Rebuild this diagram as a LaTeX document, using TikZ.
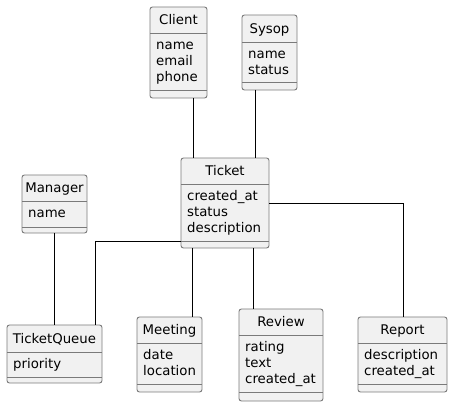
\documentclass[tikz,border=0pt]{standalone}
\usepackage{fontspec}
\setmainfont{DejaVu Sans}
\definecolor{boxfill}{HTML}{F1F1F1}
\definecolor{boxline}{HTML}{7A7A7A}
\tikzset{
  clsbox/.style={draw=boxline, fill=boxfill, line width=0.9pt, rounded corners=2.5pt, inner sep=0pt, outer sep=0pt},
  divline/.style={draw=boxline, line width=0.9pt},
  clstitle/.style={anchor=base, inner sep=0pt, font=\fontsize{13.3}{16}\selectfont},
  clsattr/.style={anchor=base west, inner sep=0pt, font=\fontsize{13.3}{16}\selectfont},
  link/.style={draw=black, line width=0.9pt}
}
% name, x1, y1, x2, y2, div1, div2, title, attrs
\newcommand\umlclass[9]{%
  \node[clsbox, minimum width={(#4-#2)*1pt}, minimum height={(#5-#3)*1pt}] (#1) at ({(#2+#4)/2},{(#3+#5)/2}) {};
  \draw[divline] (#2,#6) -- (#4,#6);
  \draw[divline] (#2,#7) -- (#4,#7);
  \node[clstitle] (#1-title) at ({(#2+#4)/2},{(#3+#6)/2+5}) {#8};
  \foreach \t [count=\i] in {#9} {
    \node[clsattr] (#1-attr\i) at (#2+6,{#6+16.5+(\i-1)*16}) {\t};
  }
}
\begin{document}
\begin{tikzpicture}[x=1pt,y=-1pt]
\useasboundingbox (0,0) rectangle (453,406);
\umlclass{client}{150}{7}{207}{98}{33}{90}{Client}{name,email,phone}
\umlclass{sysop}{242}{15}{297}{90}{42}{82}{Sysop}{name,status}
\umlclass{ticket}{181}{158}{269}{248}{184}{241}{Ticket}{created\_at,status,description}
\umlclass{manager}{22}{175}{87}{233}{201}{227}{Manager}{name}
\umlclass{tq}{7}{325}{102}{383}{352}{377}{TicketQueue}{priority}
\umlclass{meeting}{137}{317}{202}{392}{343}{384}{Meeting}{date,location}
\umlclass{review}{239}{309}{323}{401}{335}{392}{Review}{rating,text,created\_at}
\umlclass{report}{358}{317}{447}{392}{343}{384}{Report}{description,created\_at}
% connectors
\draw[link] (client.south -| 193,0) -- (ticket.north -| 193,0);
\draw[link] (sysop.south -| 255,0) -- (ticket.north -| 255,0);
\draw[link] (manager.south -| 54,0) -- (tq.north -| 54,0);
\draw[link] (ticket.west |- 0,241) -| (tq.north -| 95,0);
\draw[link] (ticket.south -| 192,0) -- (meeting.north -| 192,0);
\draw[link] (ticket.south -| 253,0) -- (review.north -| 253,0);
\draw[link] (ticket.east |- 0,203) -| (report.north -| 403,0);
\end{tikzpicture}
\end{document}
